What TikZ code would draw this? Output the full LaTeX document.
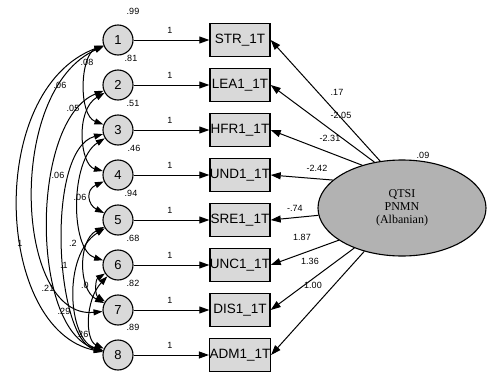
\documentclass[tikz,border=0pt]{standalone}
\usepackage{fontspec}
\setmainfont{Liberation Serif}
\setsansfont{Liberation Sans}
\usetikzlibrary{arrows.meta,shapes.geometric}
\tikzset{
  lat/.style={circle, draw, line width=1.1pt, fill=gray!30, minimum size=30pt, inner sep=0pt, font=\sffamily\fontsize{13}{13}\selectfont},
  obs/.style={draw, line width=1.4pt, fill=gray!30, minimum width=60pt, minimum height=33pt, inner sep=0pt, font=\sffamily\fontsize{13.5}{13.5}\selectfont},
  lbl/.style={font=\sffamily\fontsize{9}{9}\selectfont, inner sep=0pt},
  arr/.style={-{Triangle[length=10pt,width=7pt]}, line width=1pt},
  cov/.style={{Triangle[length=9pt,width=6pt]}-{Triangle[length=9pt,width=6pt]}, line width=1pt},
  fac/.style={ellipse, draw, line width=1.1pt, fill=gray!60, minimum width=168pt, minimum height=96pt, inner sep=0pt, align=center, font=\rmfamily\fontsize{12}{13}\selectfont},
}
\begin{document}
\begin{tikzpicture}[x=1pt,y=-1pt]
\useasboundingbox[fill=white] (0,0) rectangle (491,375);
% latent error circles
\foreach \i/\y in {1/40,2/85,3/130,4/175,5/220,6/265,7/310,8/355}{
  \node[lat] (n\i) at (118,\y) {\i};
}
% observed boxes
\node[obs] (b1) at (240,40) {STR\_1T};
\node[obs] (b2) at (240,85) {LEA1\_1T};
\node[obs] (b3) at (240,130) {HFR1\_1T};
\node[obs] (b4) at (240,175) {UND1\_1T};
\node[obs] (b5) at (240,220) {SRE1\_1T};
\node[obs] (b6) at (240,265) {UNC1\_1T};
\node[obs] (b7) at (240,310) {DIS1\_1T};
\node[obs] (b8) at (240,355) {ADM1\_1T};
% factor
\node[fac] (E) at (402,208) {QTSI\\PNMN\\(Albanian)};
\node[lbl] (ev) at (423,155) {.09};
% error -> box arrows
\foreach \i/\y in {1/40,2/85,3/130,4/175,5/220,6/265,7/310,8/355}{
  \draw[arr] (n\i) -- (b\i.west);
  \node[lbl] (one\i) at (170,\y-10) {1};
}
% variances
\node[lbl] (v1) at (133,11) {.99};
\node[lbl] (v2) at (131,58) {.81};
\node[lbl] (v3) at (133,103) {.51};
\node[lbl] (v4) at (134,148) {.46};
\node[lbl] (v5) at (131,193) {.94};
\node[lbl] (v6) at (133,238) {.68};
\node[lbl] (v7) at (133,283) {.82};
\node[lbl] (v8) at (133,327) {.89};
% factor loadings
\draw[arr] (E.115) -- (b1.east);
\draw[arr] (E.121) -- (b2.east);
\draw[arr] (E.133) -- (b3.east);
\draw[arr] (E.158) -- (b4.east);
\draw[arr] (E.185) -- (b5.east);
\draw[arr] (E.207) -- (b6.east);
\draw[arr] (E.220) -- (b7.east);
\draw[arr] (E.229) -- (b8.east);
\node[lbl] (l1) at (337,92) {.17};
\node[lbl] (l2) at (341,115) {-2.05};
\node[lbl] (l3) at (330,138) {-2.31};
\node[lbl] (l4) at (317,168) {-2.42};
\node[lbl] (l5) at (295,208) {-.74};
\node[lbl] (l6) at (302,237) {1.87};
\node[lbl] (l7) at (310,261) {1.36};
\node[lbl] (l8) at (313,285) {1.00};
% covariances
\draw[cov] (n1) .. controls (-15,90) and (-5,330) .. (n8);
\draw[cov] (n1) .. controls (5,90) and (15,320) .. (n7);
\draw[cov] (n1) .. controls (80,55) and (78,115) .. (n3);
\draw[cov] (n2) .. controls (30,120) and (30,330) .. (n8);
\draw[cov] (n2) .. controls (75,110) and (80,165) .. (n4);
\draw[cov] (n3) .. controls (45,150) and (55,340) .. (n8);
\draw[cov] (n4) .. controls (85,190) and (88,205) .. (n5);
\draw[cov] (n3) .. controls (70,160) and (70,250) .. (n6);
\draw[cov] (n5) .. controls (78,240) and (78,290) .. (n7);
\draw[cov] (n6) .. controls (95,280) and (95,295) .. (n7);
\draw[cov] (n5) .. controls (62,255) and (68,340) .. (n8);
\draw[cov] (n6) .. controls (85,300) and (85,340) .. (n8);
\node[lbl] (c1) at (20,243) {1};
\node[lbl] (c2) at (48,288) {.21};
\node[lbl] (c3) at (87,62) {.08};
\node[lbl] (c4) at (60,85) {.06};
\node[lbl] (c5) at (73,108) {.05};
\node[lbl] (c6) at (58,175) {.06};
\node[lbl] (c7) at (80,197) {.06};
\node[lbl] (c8) at (73,243) {.2};
\node[lbl] (c9) at (64,265) {.1};
\node[lbl] (c10) at (85,285) {.0};
\node[lbl] (c11) at (64,311) {.29};
\node[lbl] (c12) at (82,334) {.26};
\end{tikzpicture}
\end{document}
